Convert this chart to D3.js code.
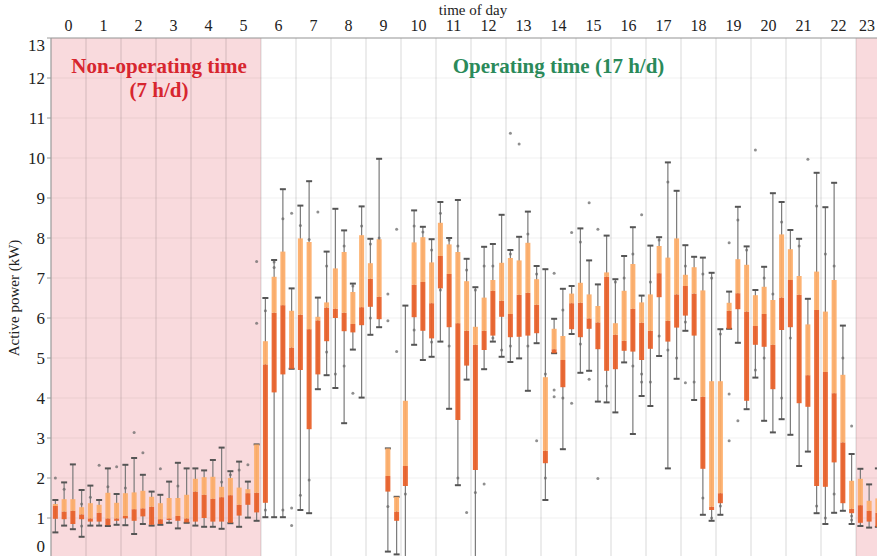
<!DOCTYPE html>
<html>
<head>
<meta charset="utf-8">
<script src="https://cdn.jsdelivr.net/npm/d3@7"></script>
<style>
  html, body { margin: 0; padding: 0; background: #fff; }
  svg { display: block; font-family: "Liberation Serif", "DejaVu Serif", serif; }
</style>
</head>
<body>
<svg id="chart" width="877" height="556"></svg>
<script>
// Hour labels along the top axis
const hours = d3.range(24);
const yTicks = d3.range(14);

// Quarter-hour slots: 4 per hour, 96 in total (index = hour*4 + quarter)
const whiskerLow = [
  0.64,0.81,0.72,0.53, 0.81,0.81,0.80,0.83, 0.82,0.60,0.85,0.81, 0.83,0.88,0.74,0.88,
  0.81,0.78,0.78,0.73, 0.87,0.78,1.01,0.93, 1.02,1.02,1.02,4.73, 1.20,1.12,4.22,4.57,
  4.25,3.37,5.21,4.01, 5.58,5.77,0.16,0.09, 0.00,5.33,4.95,5.03, 5.41,3.73,1.82,4.46,
  0.00,4.72,5.41,5.03, 4.90,4.99,4.18,5.37, 1.45,5.12,2.72,5.60, 4.63,4.68,3.91,3.89,
  3.64,4.89,3.10,4.05, 3.80,5.05,2.24,4.48, 5.68,3.95,1.08,0.93, 1.08,5.73,5.38,3.72,
  4.51,3.43,3.14,3.47, 3.08,2.30,2.66,1.12, 0.85,1.13,1.18,0.85, 0.80,0.76,0.78,0.75
];
const q1 = [
  0.98,0.97,0.85,0.97, 0.91,0.91,0.82,0.93, 0.99,0.93,1.04,0.83, 0.85,0.95,0.93,0.89,
  0.91,1.00,0.91,0.91, 0.88,1.06,1.33,1.14, 1.38,4.14,4.59,4.73, 4.70,3.22,4.59,5.42,
  6.00,5.67,5.64,5.82, 6.28,5.97,1.66,0.93, 1.80,6.02,5.68,5.49, 6.74,5.77,3.45,4.81,
  2.20,5.20,5.56,6.03, 5.52,5.53,5.56,5.62, 2.37,5.12,4.27,5.72, 5.52,5.73,5.22,4.68,
  4.72,5.18,5.16,4.95, 5.23,6.52,5.41,5.76, 6.06,5.56,2.23,1.20, 1.37,5.73,6.22,3.93,
  5.33,5.28,4.22,5.70, 5.77,3.87,3.78,1.80, 1.78,2.39,1.37,1.12, 0.88,0.91,0.78,0.85
];
const median = [
  1.30,1.16,1.18,1.09, 0.99,1.13,0.99,0.99, 1.05,1.22,1.24,1.28, 0.97,0.99,1.05,0.99,
  1.66,1.58,1.48,1.52, 1.57,1.33,1.62,1.63, 4.84,6.13,6.32,5.26, 6.08,5.72,5.94,6.26,
  6.23,6.13,5.85,6.27, 6.98,6.53,2.05,1.16, 2.30,6.83,6.90,6.37, 7.55,7.10,5.87,5.68,
  5.33,5.68,6.68,6.43, 6.10,6.58,6.63,6.33, 2.68,5.22,4.95,6.37, 6.38,5.99,5.89,7.03,
  5.58,5.43,6.23,5.88, 5.68,7.12,5.93,6.59, 6.80,6.61,4.03,1.28, 1.62,6.18,6.62,6.16,
  5.80,6.10,5.33,6.51, 6.95,6.58,4.57,6.20, 4.65,4.12,2.89,1.23, 1.32,1.18,1.13,1.10
];
const q3 = [
  1.35,1.47,1.47,1.27, 1.37,1.33,1.63,1.38, 1.62,1.64,1.68,1.53, 1.37,1.50,1.50,1.58,
  1.98,2.02,2.03,1.78, 2.00,1.76,1.72,2.84, 5.42,7.03,7.66,6.18, 7.99,7.90,6.03,6.39,
  7.24,7.65,6.65,8.07, 7.37,7.97,2.74,1.53, 3.93,7.89,8.02,7.39, 8.38,7.84,7.65,6.92,
  5.78,6.51,6.95,7.38, 7.50,7.44,7.88,6.97, 4.52,5.73,5.55,6.61, 6.88,6.59,6.30,7.14,
  5.87,6.68,7.35,6.39, 6.59,7.80,7.51,7.99, 7.08,7.27,6.69,4.42, 4.42,6.38,7.47,7.33,
  6.57,6.78,6.45,8.09, 7.72,7.05,5.84,7.16, 6.16,6.95,4.58,1.93, 1.98,1.43,1.49,1.40
];
const whiskerHigh = [
  1.45,1.89,2.34,1.70, 1.81,1.45,2.24,1.60, 2.33,2.50,2.08,1.66, 1.58,1.91,2.38,2.24,
  2.24,2.19,2.45,2.76, 2.17,2.41,1.91,2.84, 6.50,7.45,9.22,6.74, 8.81,9.42,6.51,7.66,
  8.73,8.19,6.86,8.79, 7.98,9.98,2.74,1.53, 6.31,8.69,8.28,7.97, 8.90,8.00,8.95,7.48,
  6.77,7.78,7.85,8.58, 7.70,8.03,8.66,7.30, 7.22,5.98,6.73,6.80, 8.24,7.44,6.84,8.06,
  6.97,7.55,8.27,6.56, 7.81,8.02,9.89,9.18, 7.82,7.53,7.51,7.13, 5.72,6.66,8.78,7.79,
  6.70,7.28,9.12,8.90, 8.20,7.98,6.48,9.63, 8.77,9.38,5.81,2.60, 2.23,1.84,2.24,1.80
];

// Outliers beyond the whiskers: [slot, kW]
const outliers = [
  [0,2.00],[5,2.32],[7,2.28],[9,3.14],[10,2.63],[12,2.23],[22,2.33],[23,7.41],[23,5.87],
  [27,8.62],[27,1.25],[27,0.81],[30,8.65],[34,4.12],[38,6.60],[38,5.93],[39,8.22],[39,5.16],
  [47,1.14],[49,1.85],[52,10.62],[53,10.35],[55,2.93],[57,7.12],[57,4.20],[57,4.03],
  [59,8.14],[59,3.87],[61,8.88],[61,4.47],[62,8.22],[62,1.99],[67,8.58],[72,4.38],
  [77,7.88],[77,4.10],[77,2.93],[78,3.43],[80,10.20],[86,9.97],[91,3.30]
];

// Individual readings lying inside the whisker range: [slot, kW]
const innerPoints = [
  [1,1.72],[3,1.35],[3,0.80],[4,1.52],[6,1.78],[8,1.75],[14,1.80],[19,1.90],[20,2.08],[21,2.20],
  [24,6.18],[24,1.20],[25,7.40],[25,7.26],[26,8.48],[26,1.20],[28,8.31],[28,1.57],[29,7.96],[29,1.95],
  [31,7.30],[31,5.15],[32,4.60],[33,7.80],[33,4.80],[34,6.80],[35,8.30],[36,7.85],[36,6.00],[37,8.00],
  [38,1.29],[40,1.60],[41,8.30],[41,5.70],[42,8.15],[43,7.70],[43,5.40],[44,8.62],[44,6.70],[45,7.95],
  [45,5.30],[46,7.80],[46,2.00],[47,7.20],[48,6.70],[48,1.64],[49,7.30],[50,7.30],[50,5.50],[51,5.20],
  [52,7.60],[52,5.30],[54,8.10],[54,5.30],[55,7.10],[56,4.60],[56,2.00],[58,6.20],[58,4.00],[60,7.90],
  [60,5.35],[63,4.30],[64,6.90],[65,7.00],[66,7.60],[66,4.80],[67,4.60],[67,4.40],[68,6.90],[68,4.40],
  [69,7.95],[69,5.55],[70,9.40],[70,5.20],[71,5.00],[72,7.30],[72,5.90],[73,4.40],[74,7.10],[74,1.50],
  [75,7.00],[75,1.00],[76,5.60],[76,1.30],[78,8.45],[79,7.70],[80,4.70],[81,7.00],[81,5.00],[82,6.60],
  [83,8.40],[83,4.00],[84,5.50],[85,7.80],[87,8.80],[87,1.30],[88,7.60],[88,1.00],[89,7.30],[89,1.60],
  [90,5.00],[91,1.05],[91,0.95]
];

// Shaded non-operating periods, in hours [start, end]
const offPeriods = [[0, 6], [23, 24]];

const svg = d3.select("#chart");
const x = d3.scaleLinear().domain([0, 24]).range([51, 891]);
const y = d3.scaleLinear().domain([0, 13]).range([558, 38]);
const slotX = i => x(i / 4 + 0.125);
const boxW = 5, capW = 6;

// Non-operating shading
svg.append("g").selectAll("rect").data(offPeriods).join("rect")
  .attr("x", d => x(d[0])).attr("width", d => x(d[1]) - x(d[0]))
  .attr("y", y(13)).attr("height", y(0) - y(13))
  .attr("fill", "#f9dadd");

// Horizontal grid lines
svg.append("g").selectAll("line").data(yTicks.slice(1)).join("line")
  .attr("x1", x(0)).attr("x2", x(24))
  .attr("y1", d => y(d)).attr("y2", d => y(d))
  .attr("stroke", "#000").attr("stroke-opacity", 0.06).attr("stroke-width", 1);

// Vertical hour separators
svg.append("g").selectAll("line").data(d3.range(1, 24)).join("line")
  .attr("x1", d => x(d)).attr("x2", d => x(d))
  .attr("y1", y(13)).attr("y2", y(0))
  .attr("stroke", "#000").attr("stroke-opacity", 0.1).attr("stroke-width", 1.5);

// Plot frame: left and top borders
svg.append("line").attr("x1", x(0)).attr("x2", x(0)).attr("y1", y(13)).attr("y2", y(0))
  .attr("stroke", "#9a9a9a").attr("stroke-width", 1.2);
svg.append("line").attr("x1", x(0)).attr("x2", x(24)).attr("y1", y(13)).attr("y2", y(13))
  .attr("stroke", "#9a9a9a").attr("stroke-width", 1.2);

// Annotations
const ann = svg.append("g").attr("font-weight", "bold").attr("text-anchor", "middle").attr("font-size", 21);
ann.append("text").attr("x", x(3) + 3).attr("y", y(12.3) + 7).attr("fill", "#d7262f").text("Non-operating time");
ann.append("text").attr("x", x(3) + 3).attr("y", y(11.7) + 7).attr("fill", "#d7262f").text("(7 h/d)");
ann.append("text").attr("x", x(14.5)).attr("y", y(12.3) + 7).attr("fill", "#2b8a5a").text("Operating time (17 h/d)");

const slots = d3.range(96);
const boxes = svg.append("g");

// Whiskers
boxes.selectAll("line.whisker").data(slots).join("line").attr("class", "whisker")
  .attr("x1", slotX).attr("x2", slotX)
  .attr("y1", i => y(whiskerLow[i])).attr("y2", i => y(whiskerHigh[i]))
  .attr("stroke", "#7a7a7a").attr("stroke-width", 1.2);

// Whisker caps
[whiskerLow, whiskerHigh].forEach(arr => {
  boxes.append("g").selectAll("line").data(slots).join("line")
    .attr("x1", i => slotX(i) - capW / 2).attr("x2", i => slotX(i) + capW / 2)
    .attr("y1", i => y(arr[i])).attr("y2", i => y(arr[i]))
    .attr("stroke", "#555").attr("stroke-width", 2);
});

// Lower half of the box (Q1 to median)
boxes.append("g").selectAll("rect").data(slots).join("rect")
  .attr("x", i => slotX(i) - boxW / 2).attr("width", boxW)
  .attr("y", i => y(median[i])).attr("height", i => y(q1[i]) - y(median[i]))
  .attr("fill", "#e9622b").attr("fill-opacity", 0.95);

// Upper half of the box (median to Q3)
boxes.append("g").selectAll("rect").data(slots).join("rect")
  .attr("x", i => slotX(i) - boxW / 2).attr("width", boxW)
  .attr("y", i => y(q3[i])).attr("height", i => y(median[i]) - y(q3[i]))
  .attr("fill", "#fdae6a").attr("fill-opacity", 0.95);

// Individual points
boxes.append("g").selectAll("circle").data(innerPoints.concat(outliers)).join("circle")
  .attr("cx", d => slotX(d[0])).attr("cy", d => y(d[1])).attr("r", 1.5)
  .attr("fill", "#6a6a6a").attr("fill-opacity", 0.75);

// Top axis: hours (last label kept inside the visible width)
svg.append("g").selectAll("text").data(hours).join("text")
  .attr("x", d => Math.min(867, x(d + 0.5))).attr("y", 31)
  .attr("text-anchor", "middle").attr("font-size", 16).attr("fill", "#222")
  .text(d => d);
svg.append("text").attr("x", 473).attr("y", 15).attr("text-anchor", "middle")
  .attr("font-size", 15).attr("fill", "#222").text("time of day");

// Left axis: power
const yAxis = svg.append("g");
yAxis.selectAll("line").data(yTicks).join("line")
  .attr("x1", x(0) - 4).attr("x2", x(0))
  .attr("y1", d => y(d)).attr("y2", d => y(d))
  .attr("stroke", "#9a9a9a");
yAxis.selectAll("text").data(yTicks).join("text")
  .attr("x", 45).attr("y", d => Math.min(546, Math.max(45, y(d))))
  .attr("dy", "0.35em").attr("text-anchor", "end")
  .attr("font-size", 17).attr("fill", "#222").text(d => d);
svg.append("text")
  .attr("transform", `translate(19,${y(6.5)}) rotate(-90)`)
  .attr("text-anchor", "middle").attr("font-size", 15).attr("fill", "#222")
  .text("Active power (kW)");
</script>
</body>
</html>
